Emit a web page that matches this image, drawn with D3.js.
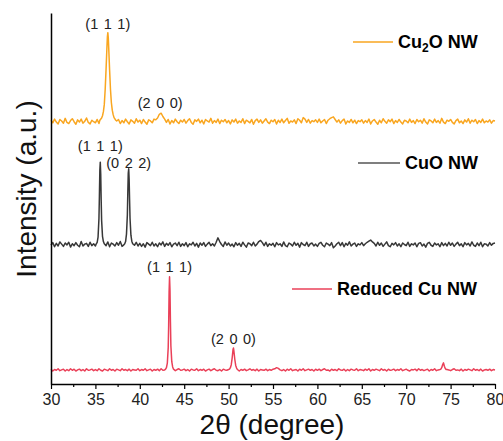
<!DOCTYPE html>
<html>
<head>
<meta charset="utf-8">
<script src="https://cdn.jsdelivr.net/npm/d3@7"></script>
<style>
  html, body { margin: 0; padding: 0; background: #fff; }
  svg { display: block; font-family: "Liberation Sans", Arial, sans-serif; }
</style>
</head>
<body>
<svg id="chart" width="503" height="441"></svg>
<script>
// XRD scans, 2θ from 30° to 80° sampled every 0.2°; background counts (a.u.) per sample.
const scanStart = 30, scanStep = 0.2;

const cu2oBackground = [
  3,-4,6,-2,-7,5,1,-5,8,-3,-6,2,7,-1,-8,4,-2,6,-5,0,9,-3,-7,3,-1,
  -4,5,-6,2,-9,3,6,-2,4,-5,7,-3,1,5,-6,2,-4,6,-1,-7,4,0,-5,7,-2,
  3,-6,5,-2,-8,4,1,-4,6,4,9,19,22,13,6,-3,5,-7,2,-4,6,-1,-6,3,-2,
  5,-5,2,7,-3,-8,4,0,6,-4,3,-7,5,1,-2,8,-5,2,-3,6,-6,3,-1,5,-4,
  2,-7,4,-2,6,-5,1,-3,7,-6,3,0,-4,5,-8,2,6,-3,4,-5,1,7,-2,-6,3,
  -1,5,-7,3,-3,6,-4,2,8,-5,1,-2,4,-6,7,3,-4,10,6,-3,5,-5,2,-1,4,
  -3,6,-4,1,5,-6,3,7,10,12,5,-2,4,-5,2,6,-7,1,-3,5,-4,3,-6,2,-1,
  4,-5,2,-3,6,-7,1,5,-2,-8,3,-4,7,0,-5,4,-1,6,-6,2,-3,5,-2,-7,3,
  1,-4,6,-3,2,-6,5,-1,3,-5,7,-2,-7,4,1,-4,6,-3,2,-5,8,-2,-6,3,0,
  5,-3,-7,2,6,-4,1,-6,4,-2,7,-5,3,-1,5,-6,2,-3,6,-4,1,-2,4,-5,2,
  1
];

const cuoBackground = [
  -2,5,-6,3,-4,7,1,-5,4,-1,6,-7,2,-3,5,-2,-6,8,-4,1,3,-5,6,-3,2,
  -4,6,-1,3,-5,2,-3,7,-6,4,1,-4,5,-2,8,-5,-1,3,-6,4,-3,5,-2,6,-4,
  3,-5,2,-7,5,1,-3,6,-4,2,-6,4,-1,7,-5,3,-2,5,-6,1,4,-3,6,-5,2,
  -3,5,-6,2,-1,6,-4,3,-7,4,-2,5,-5,1,6,-3,2,-4,6,18,8,0,-5,7,-2,
  4,-4,1,-6,5,-2,3,-5,6,-1,-7,4,2,-3,6,-4,1,8,11,5,-3,6,-5,2,-2,
  3,-6,5,-1,2,-5,7,-3,-6,4,1,-4,6,-2,3,-7,5,0,-3,6,-5,2,4,-4,1,
  -5,3,6,-2,-6,4,1,-3,5,-9,-4,2,6,-3,5,-6,3,-2,7,-4,1,4,-5,2,-1,
  5,-3,2,6,9,12,7,3,-4,6,-2,4,-5,1,7,-3,-6,3,-1,5,-4,2,-6,4,0,
  -3,6,-5,2,-1,4,-6,3,5,-4,1,-7,3,6,-2,-5,4,-1,2,-6,5,-3,3,-4,6,
  -2,4,-5,1,6,-3,2,-6,5,-1,3,-4,7,-2,-5,4,-3,6,-6,2,1,-4,5,-2,3,
  4
];

const cuBackground = [
  2,-3,1,-1,3,-2,0,2,-3,1,-2,3,-1,2,-3,0,2,-2,1,-3,3,-1,0,2,-2,
  1,-2,3,-1,-3,2,0,-2,3,-1,1,-3,2,0,-2,3,-1,1,-2,2,-3,1,0,-1,3,
  -2,1,-1,3,-2,0,2,-3,1,-1,2,-2,3,-1,0,2,-3,1,-1,2,-2,1,3,-1,0,
  2,-2,1,-3,2,0,-1,3,-2,1,-1,2,-3,0,2,-2,1,3,-1,-2,1,-3,2,0,-1,
  1,-2,3,-1,0,2,-3,1,-1,2,-2,0,3,-1,1,-2,2,-3,1,0,-1,2,-2,1,-1,
  2,3,6,4,0,-2,1,-3,2,-1,3,-2,0,1,-3,2,-1,3,-2,0,2,-1,1,-3,2,
  -1,2,-2,1,3,-1,0,-3,2,-1,1,-2,3,0,-1,2,-3,1,-2,2,0,-1,3,-2,1,
  0,-2,2,-1,3,-3,1,-1,2,0,-2,3,-1,1,-3,2,-1,0,2,-2,1,-1,3,-2,0,
  2,-1,-3,1,0,2,-2,3,-1,1,-2,0,2,-3,1,-1,3,-2,0,1,-1,2,-3,1,0,
  -2,1,3,-1,0,-2,2,-3,1,-1,2,0,-2,3,-1,1,-2,2,-3,0,1,-1,2,-2,1,
  0
];

// Diffraction peaks, finely sampled: [2θ, intensity]
const cu2oPeak111 = [[35.5,3],[35.7,9],[35.8,15],[35.9,26],[36.0,45],[36.1,85],[36.2,140],[36.3,200],[36.35,228],[36.4,239],[36.45,226],[36.5,198],[36.6,138],[36.7,85],[36.8,50],[36.9,30],[37.0,18],[37.1,10],[37.3,3]];

const cuoPeak111 = [[35.1,2],[35.2,6],[35.3,20],[35.4,70],[35.45,130],[35.5,200],[35.55,222],[35.6,190],[35.65,120],[35.7,65],[35.8,22],[35.9,8],[36.0,2]];
const cuoPeak022 = [[38.3,2],[38.4,8],[38.5,28],[38.6,80],[38.65,140],[38.7,192],[38.75,204],[38.8,175],[38.85,120],[38.9,70],[39.0,25],[39.1,9],[39.2,2]];

const cuPeak111 = [[42.9,2],[43.0,6],[43.1,18],[43.2,60],[43.25,120],[43.3,210],[43.35,251],[43.4,215],[43.45,130],[43.5,65],[43.6,22],[43.7,8],[43.8,2]];
const cuPeak200 = [[50.1,2],[50.2,6],[50.3,14],[50.4,32],[50.5,55],[50.55,59],[50.6,50],[50.7,28],[50.8,12],[50.9,5],[51.0,1]];
const cuPeak220 = [[73.9,2],[74.0,6],[74.1,14],[74.2,19],[74.3,10],[74.4,4],[74.5,1]];

const seriesNames = ["Cu\u2082O NW", "CuO NW", "Reduced Cu NW"];
const seriesColors = ["#f9a620", "#383838", "#ea4058"];
const stackOffsets = [708, 376, 38];

const xTicks = [30, 35, 40, 45, 50, 55, 60, 65, 70, 75, 80];
const xMinorTicks = [32.5, 37.5, 42.5, 47.5, 52.5, 57.5, 62.5, 67.5, 72.5, 77.5];

// Peak index labels: [series index, 2θ, label]
const peakLabels = [
  [0, 36.4, "(1 1 1)"], [0, 42.3, "(2 0 0)"],
  [1, 35.55, "(1 1 1)"], [1, 38.75, "(0 2 2)"],
  [2, 43.35, "(1 1 1)"], [2, 50.55, "(2 0 0)"]
];
// vertical gap between each label's baseline and its peak top
const labelGaps = [4, 5, 11, 1, 5, 4];

function buildScan(background, peaks) {
  const pts = background.map((v, i) => [+(scanStart + i * scanStep).toFixed(2), v]);
  const kept = pts.filter(([t]) => !peaks.some(p => t >= p[0][0] && t <= p[p.length - 1][0]));
  return kept.concat(...peaks).sort((a, b) => a[0] - b[0]);
}

const scans = [
  buildScan(cu2oBackground, [cu2oPeak111]),
  buildScan(cuoBackground, [cuoPeak111, cuoPeak022]),
  buildScan(cuBackground, [cuPeak111, cuPeak200, cuPeak220])
];

const svg = d3.select("#chart");
const x = d3.scaleLinear().domain([30, 80]).range([51, 495]);
const y = d3.scaleLinear().domain([0, 1000]).range([384, 13]);

// Scans
const line = d3.line().x(d => x(d[0])).y(d => y(d[1]));
scans.forEach((scan, k) => {
  svg.append("path")
    .datum(scan.map(([t, v]) => [t, v + stackOffsets[k]]))
    .attr("d", line)
    .attr("fill", "none")
    .attr("stroke", seriesColors[k])
    .attr("stroke-width", 1.5)
    .attr("stroke-linejoin", "round");
});

// Peak labels, set just above each peak top
peakLabels.forEach(([k, t, txt], j) => {
  const scan = scans[k];
  const top = d3.max(scan.filter(d => Math.abs(d[0] - t) < 0.3), d => d[1]) + stackOffsets[k];
  svg.append("text")
    .attr("x", x(t))
    .attr("y", y(top) - labelGaps[j])
    .attr("text-anchor", "middle")
    .attr("font-size", 14.5)
    .attr("word-spacing", 1.5)
    .attr("fill", "#222")
    .text(txt);
});

// Axes
const xAxis = svg.append("g")
  .attr("transform", "translate(0,384)")
  .call(d3.axisBottom(x).tickValues(xTicks).tickSize(5).tickSizeOuter(0).tickPadding(5));
xAxis.selectAll("text").attr("font-size", 16).attr("fill", "#222").attr("font-family", "Liberation Sans, Arial, sans-serif");
xAxis.select(".domain").attr("stroke", "#000").attr("stroke-width", 1.5);
xAxis.selectAll(".tick line").attr("stroke", "#000").attr("stroke-width", 1.2);

const xMinor = svg.append("g")
  .attr("transform", "translate(0,384)")
  .call(d3.axisBottom(x).tickValues(xMinorTicks).tickSize(3).tickSizeOuter(0).tickFormat(""));
xMinor.select(".domain").remove();
xMinor.selectAll(".tick line").attr("stroke", "#000").attr("stroke-width", 1.2);

const yAxis = svg.append("g")
  .attr("transform", "translate(51,0)")
  .call(d3.axisLeft(y).tickValues([]).tickSizeOuter(0));
yAxis.select(".domain").attr("stroke", "#000").attr("stroke-width", 1.5);

// Axis titles
svg.append("text")
  .attr("x", 272).attr("y", 434)
  .attr("text-anchor", "middle")
  .attr("font-size", 28)
  .attr("fill", "#111")
  .text("2θ (degree)");

svg.append("text")
  .attr("transform", "translate(36,189) rotate(-90)")
  .attr("text-anchor", "middle")
  .attr("font-size", 28)
  .attr("fill", "#111")
  .text("Intensity (a.u.)");

// Legend entries beside each scan
const legendPos = [[353, 393, 42], [358, 400, 163], [292, 332, 289]];
seriesNames.forEach((name, k) => {
  const [x0, x1, ly] = legendPos[k];
  svg.append("line")
    .attr("x1", x0).attr("x2", x1).attr("y1", ly).attr("y2", ly)
    .attr("stroke", k === 1 ? "#555" : seriesColors[k])
    .attr("stroke-width", 1.5);
  const t = svg.append("text")
    .attr("x", x1 + 5).attr("y", ly + 6)
    .attr("font-size", 18)
    .attr("font-weight", "bold")
    .attr("fill", "#000");
  if (k === 0) {
    t.append("tspan").text("Cu");
    t.append("tspan").attr("font-size", 12).attr("dy", 4).text("2");
    t.append("tspan").attr("dy", -4).text("O NW");
  } else {
    t.text(name);
  }
});
</script>
</body>
</html>
